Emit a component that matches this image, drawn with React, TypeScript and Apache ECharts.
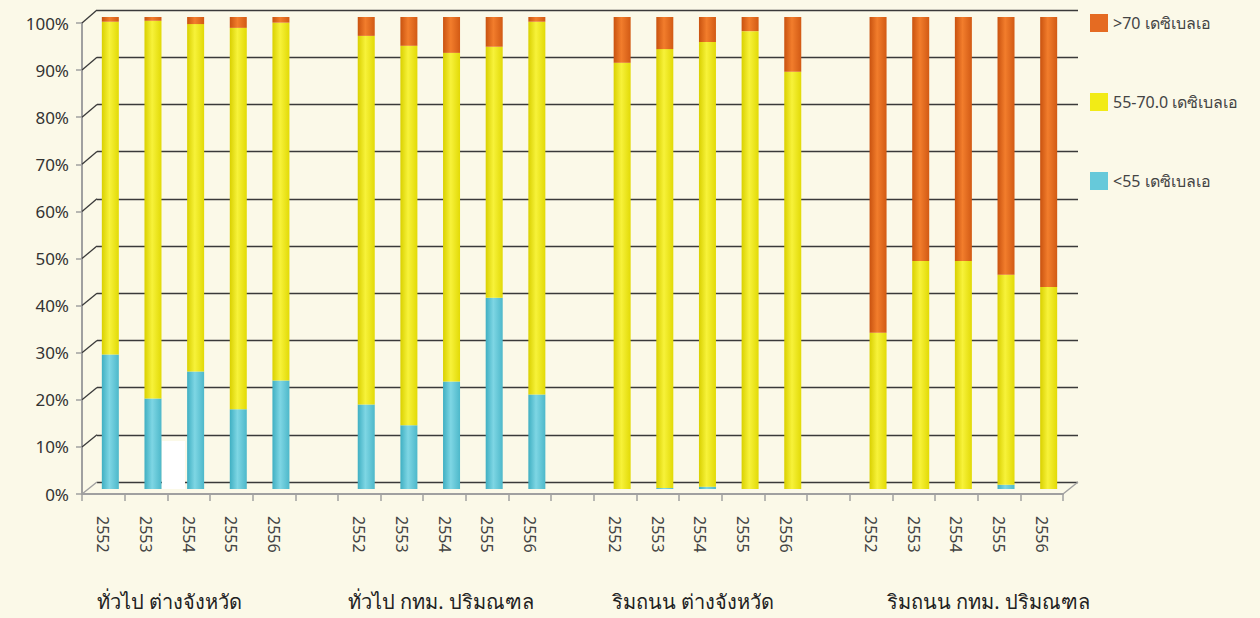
import React, { useEffect, useRef } from "react";
import * as echarts from "echarts";

const years = ["2552", "2553", "2554", "2555", "2556"];
const groupNames = ["ทั่วไป ต่างจังหวัด", "ทั่วไป กทม. ปริมณฑล", "ริมถนน ต่างจังหวัด", "ริมถนน กทม. ปริมณฑล"];
const seriesNames = ["<55 เดซิเบลเอ", "55-70.0 เดซิเบลเอ", ">70 เดซิเบลเอ"];

// per group, per year (percent)
const below55 = [
  [28.5, 19.2, 24.9, 16.9, 23.0],
  [17.9, 13.5, 22.8, 40.5, 20.0],
  [0, 0.2, 0.5, 0, 0],
  [0, 0, 0, 0.9, 0],
];
const mid55to70 = [
  [70.5, 80.0, 73.6, 80.8, 75.8],
  [78.1, 80.4, 69.6, 53.2, 79.0],
  [90.3, 93.0, 94.2, 97.0, 88.4],
  [33.1, 48.3, 48.3, 44.5, 42.8],
];
const above70 = [
  [1.0, 0.8, 1.5, 2.3, 1.2],
  [4.0, 6.1, 7.6, 6.3, 1.0],
  [9.7, 6.8, 5.3, 3.0, 11.6],
  [66.9, 51.7, 51.7, 54.6, 57.2],
];
const yTicks = [0, 10, 20, 30, 40, 50, 60, 70, 80, 90, 100];

const colors = {
  blue: ["#3FAFC2", "#7ED6E4", "#4DB8CA"],
  yellow: ["#D9D000", "#F7F23A", "#E2DA06"],
  orange: ["#C9520F", "#F27D2C", "#D25A14"],
};
const solid = ["#66C9DA", "#F2EB16", "#E56B22"];

function cyl(c: string[]) {
  return new echarts.graphic.LinearGradient(0, 0, 1, 0, [
    { offset: 0, color: c[0] },
    { offset: 0.45, color: c[1] },
    { offset: 1, color: c[2] },
  ]);
}

function buildCategories(): string[] {
  const cats: string[] = [];
  groupNames.forEach((_, gi) => {
    years.forEach((y) => cats.push(y));
    if (gi < groupNames.length - 1) cats.push("");
  });
  return cats;
}

function buildData(src: number[][]): (number | null)[] {
  const out: (number | null)[] = [];
  src.forEach((g, gi) => {
    g.forEach((v) => out.push(v));
    if (gi < src.length - 1) out.push(null);
  });
  return out;
}

export default function App() {
  const ref = useRef<HTMLDivElement>(null);
  useEffect(() => {
    if (!ref.current) return;
    const chart = echarts.init(ref.current, null, { renderer: "svg" });
    const cats = buildCategories();
    const font = "Tahoma, 'Noto Sans', 'DejaVu Sans', sans-serif";
    const groupLeft = [97, 348, 612, 887];
    const front = { left: 82, right: 197, top: 23, bottom: 124 };
    const back = { left: 97, right: 182, top: 10, bottom: 136 };
    const mk = (name: string, data: number[][], c: string[]) => ({
      name,
      type: "bar",
      stack: "total",
      barWidth: 17,
      xAxisIndex: 2,
      yAxisIndex: 2,
      data: buildData(data),
      itemStyle: { color: cyl(c) },
    });
    const gridLineColor = "#3a3a3a";
    chart.setOption({
      animation: false,
      backgroundColor: "#FBF9E8",
      textStyle: { fontFamily: font },
      grid: [
        front,
        back,
        { left: 89, right: 190, top: 17, bottom: 129 },
      ],
      legend: {
        orient: "vertical",
        left: 1085,
        top: 9,
        itemGap: 61,
        itemWidth: 18,
        itemHeight: 18,
        icon: "rect",
        textStyle: { fontSize: 16, color: "#444", fontFamily: font },
        data: [
          { name: seriesNames[2], itemStyle: { color: solid[2] } },
          { name: seriesNames[1], itemStyle: { color: solid[1] } },
          { name: seriesNames[0], itemStyle: { color: solid[0] } },
        ],
      },
      xAxis: [
        {
          gridIndex: 0,
          type: "category",
          data: cats,
          axisLine: { show: true, lineStyle: { color: "#a0a0a0", width: 2 } },
          axisTick: { show: true, interval: 0, length: 7, lineStyle: { color: "#a0a0a0", width: 1.5 } },
          axisLabel: {
            interval: 0,
            rotate: -90,
            margin: 22,
            fontSize: 16,
            color: "#444",
            fontFamily: font,
          },
        },
        {
          gridIndex: 1,
          type: "category",
          data: cats,
          axisLine: { show: false },
          axisTick: { show: false },
          axisLabel: { show: false },
        },
        {
          gridIndex: 2,
          type: "category",
          data: cats,
          axisLine: { show: false },
          axisTick: { show: false },
          axisLabel: { show: false },
        },
      ],
      yAxis: [
        {
          gridIndex: 0,
          type: "value",
          min: 0,
          max: 100,
          interval: 10,
          axisLine: { show: true, lineStyle: { color: "#a0a0a0", width: 2 } },
          axisTick: { show: true, length: 6, lineStyle: { color: "#a0a0a0", width: 1.5 } },
          axisLabel: {
            formatter: (v: number) => (yTicks.includes(v) ? v + "%" : ""),
            fontSize: 17,
            color: "#333",
            margin: 13,
            fontFamily: font,
          },
          splitLine: { show: false },
        },
        {
          gridIndex: 1,
          type: "value",
          min: 0,
          max: 100,
          interval: 10,
          axisLine: { show: false },
          axisTick: { show: false },
          axisLabel: { show: false },
          splitLine: { show: true, lineStyle: { color: gridLineColor, width: 1.3 } },
        },
        {
          gridIndex: 2,
          type: "value",
          min: 0,
          max: 100,
          interval: 10,
          axisLine: { show: false },
          axisTick: { show: false },
          axisLabel: { show: false },
          splitLine: { show: false },
        },
      ],
      series: [
        mk(seriesNames[0], below55, colors.blue),
        mk(seriesNames[1], mid55to70, colors.yellow),
        mk(seriesNames[2], above70, colors.orange),
      ],
    });

    const elements: any[] = [];
    const x0 = front.left;
    const x1 = back.left;
    yTicks.forEach((v) => {
      const yf = chart.convertToPixel({ yAxisIndex: 0 }, v) as number;
      const yb = chart.convertToPixel({ yAxisIndex: 1 }, v) as number;
      elements.push({
        type: "line",
        shape: { x1: x0, y1: yf, x2: x1, y2: yb },
        style: { stroke: v === 0 ? "#a0a0a0" : gridLineColor, lineWidth: v === 0 ? 1.5 : 1.3 },
        z: 1,
      });
    });
    // right floor edge
    const yf0 = chart.convertToPixel({ yAxisIndex: 0 }, 0) as number;
    const yb0 = chart.convertToPixel({ yAxisIndex: 1 }, 0) as number;
    elements.push({
      type: "line",
      shape: { x1: 1260 - front.right, y1: yf0, x2: 1260 - back.right, y2: yb0 },
      style: { stroke: "#a0a0a0", lineWidth: 1.5 },
      z: 1,
    });
    // white patch seen in the original image
    elements.push({
      type: "rect",
      shape: { x: 162, y: 441, width: 23, height: 48 },
      style: { fill: "#ffffff" },
      z: 0,
    });
    groupNames.forEach((n, i) => {
      elements.push({
        type: "text",
        left: groupLeft[i],
        top: 591,
        style: { text: n, fontSize: 20, fill: "#222", fontFamily: font },
      });
    });
    chart.setOption({ graphic: elements });
    return () => chart.dispose();
  }, []);
  return (
    <div
      ref={ref}
      style={{ position: "fixed", left: 0, top: 0, width: 1260, height: 618 }}
    />
  );
}
